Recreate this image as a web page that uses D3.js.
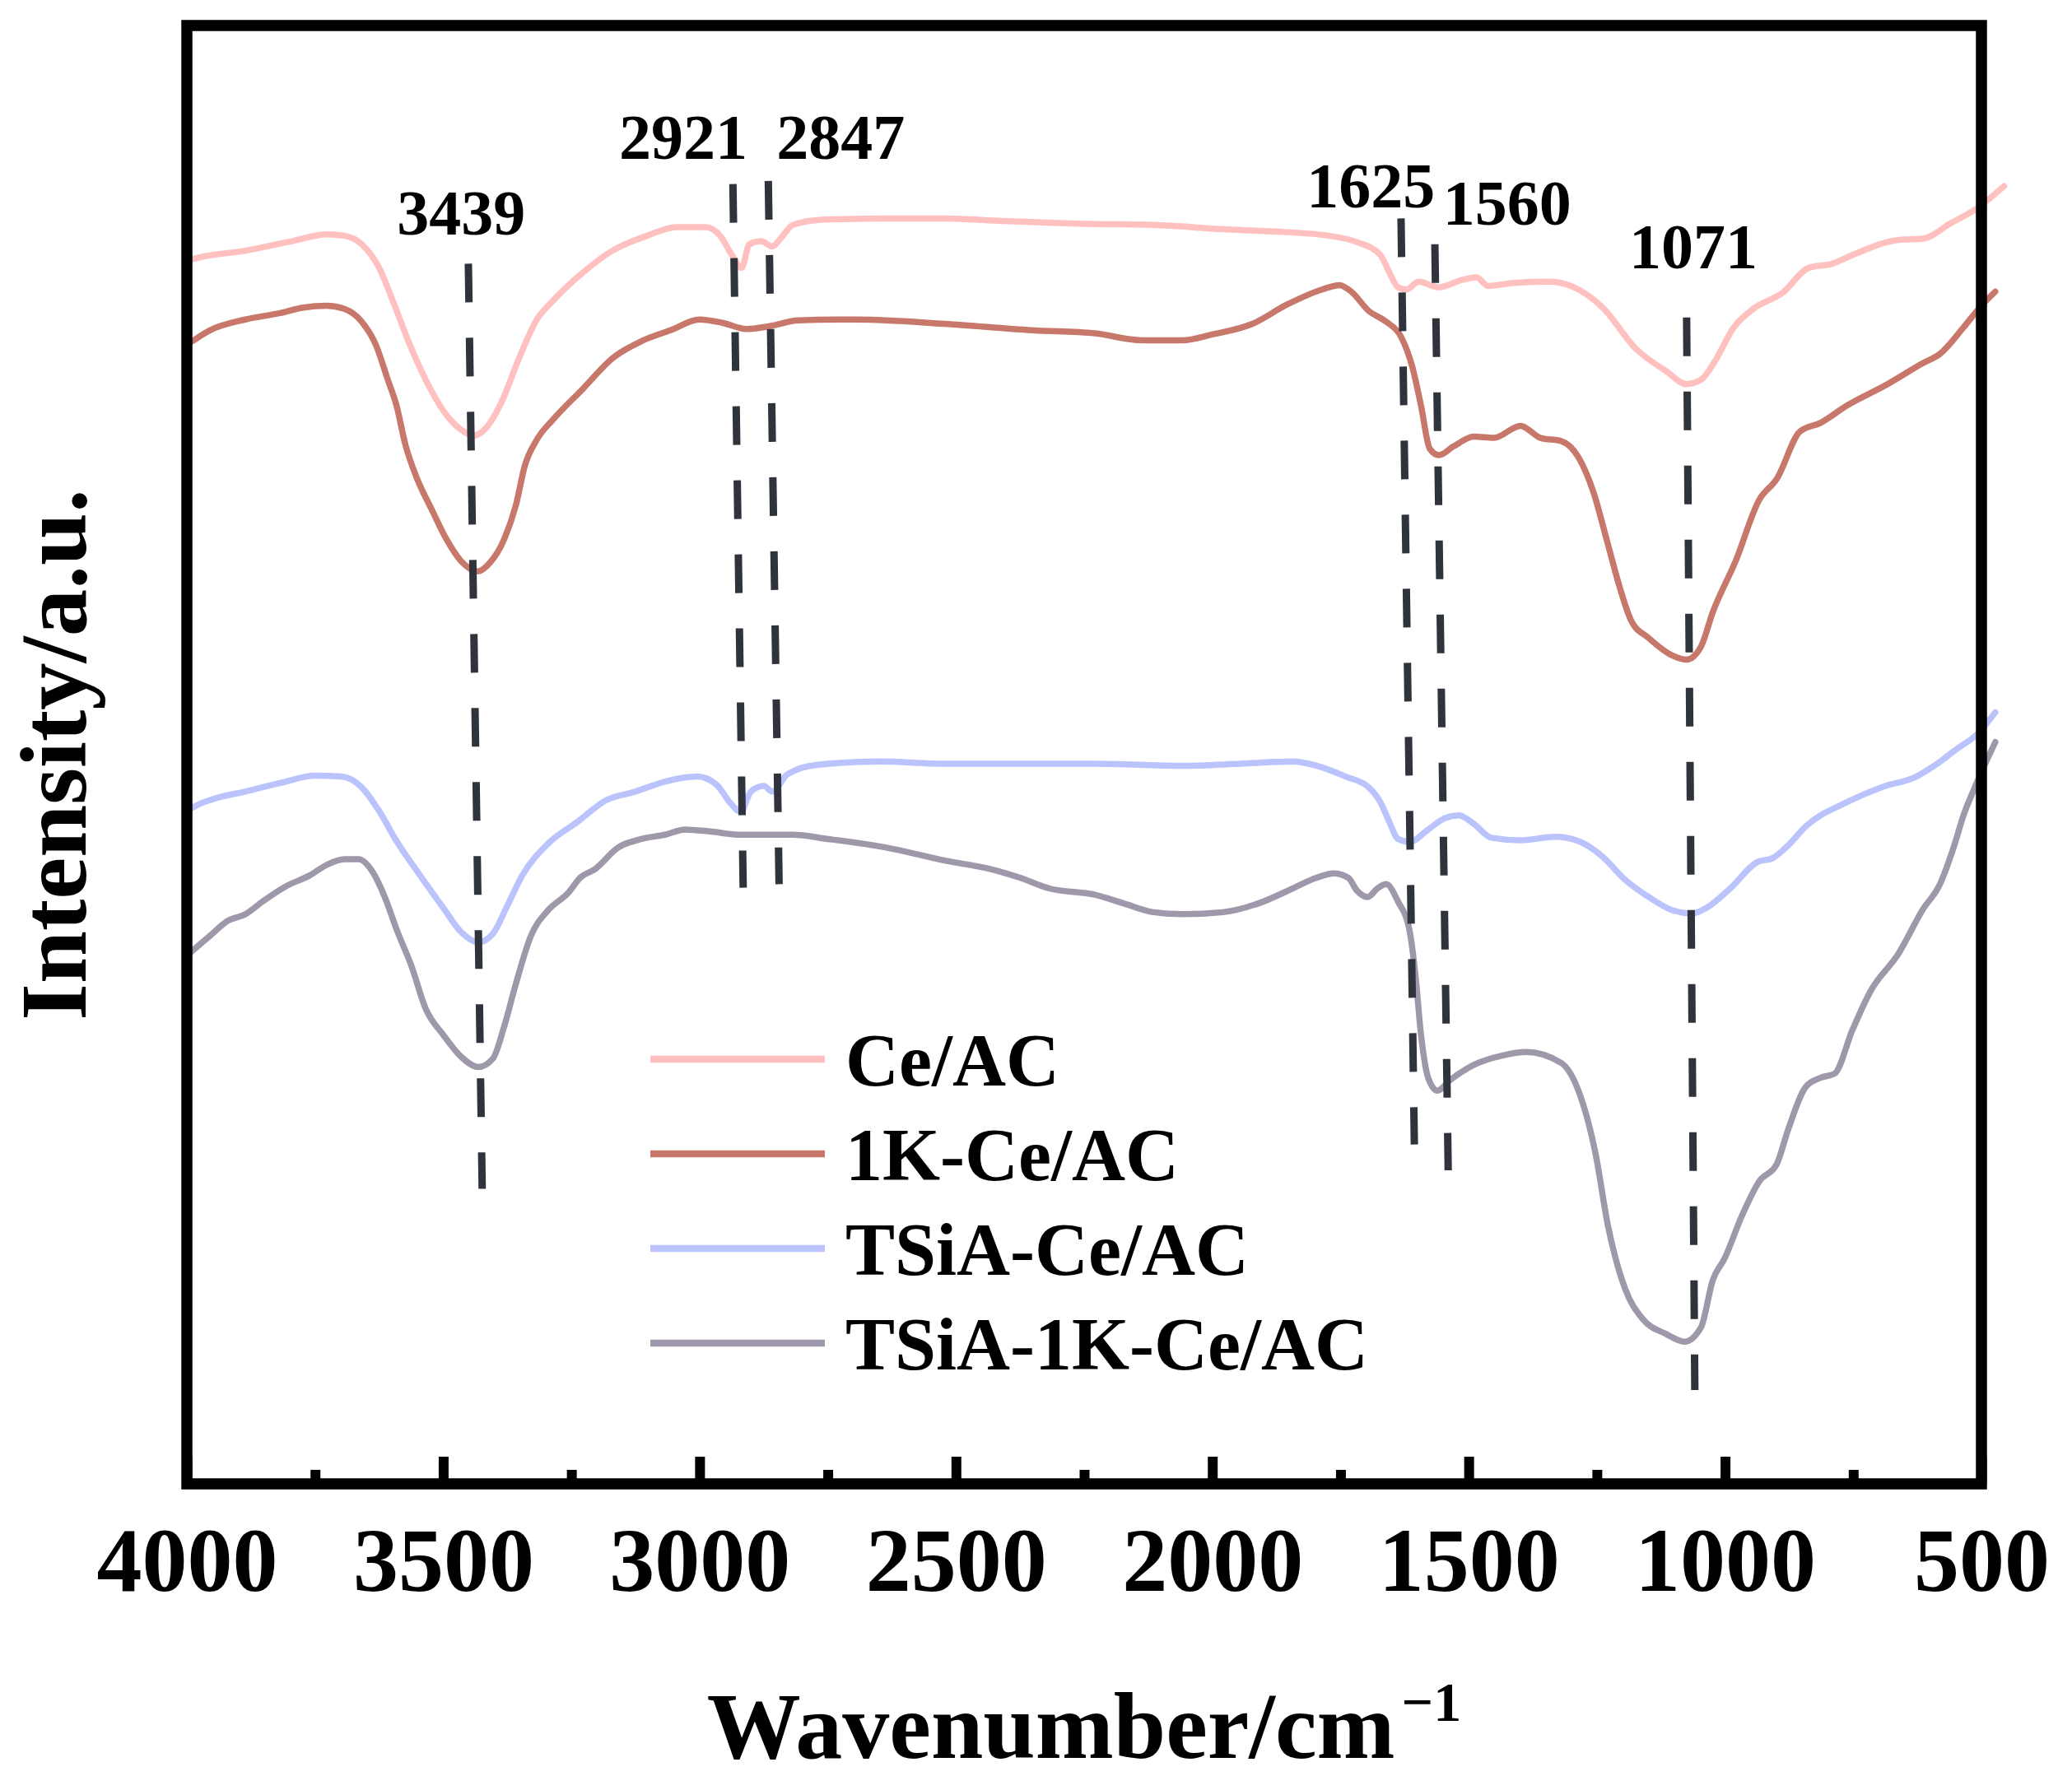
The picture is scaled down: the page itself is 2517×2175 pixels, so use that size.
<!DOCTYPE html>
<html>
<head>
<meta charset="utf-8">
<script src="https://cdn.jsdelivr.net/npm/d3@7"></script>
<style>
  html, body { margin: 0; padding: 0; background: #ffffff; }
  svg { display: block; }
  text { font-family: "Liberation Serif", "Times New Roman", Times, serif; font-weight: bold; fill: #000; }
</style>
</head>
<body>
<svg id="chart" width="2517" height="2175"></svg>
<script>
// ---------------- DATA (wavenumber cm^-1, intensity a.u.) ----------------
const seriesNames = ["Ce/AC", "1K-Ce/AC", "TSiA-Ce/AC", "TSiA-1K-Ce/AC"];
const seriesColors = ["#ffc0c0", "#c8786a", "#bbc3fd", "#9e98aa"];

const ceAC = [[4000,83.8],[3989,83.97],[3886,84.56],[3795,85.21],[3727,85.68],[3693,85.59],[3659,85.0],[3625,83.38],[3597,81.0],[3568,78.36],[3534,75.7],[3500,73.6],[3466,72.3],[3441,71.87],[3415,72.46],[3386,74.2],[3352,77.2],[3318,79.8],[3284,81.2],[3227,83.08],[3170,84.56],[3102,85.59],[3045,86.18],[2988,86.18],[2960,85.59],[2937,84.26],[2918,83.38],[2903,85.0],[2880,85.21],[2858,84.85],[2841,85.44],[2818,86.33],[2761,86.68],[2636,86.77],[2522,86.77],[2409,86.6],[2229,86.39],[2115,86.33],[1979,86.03],[1888,85.89],[1774,85.59],[1718,85.15],[1672,84.26],[1655,83.08],[1638,82.05],[1621,81.9],[1598,82.43],[1558,82.05],[1513,82.55],[1485,82.73],[1462,82.14],[1411,82.35],[1343,82.43],[1286,81.9],[1240,80.7],[1172,77.77],[1115,76.3],[1075,75.41],[1047,75.7],[1019,77.03],[984,79.25],[945,80.57],[888,81.67],[837,83.38],[791,83.67],[752,84.26],[661,85.3],[615,85.38],[558,86.48],[513,87.36],[456,88.98]];

const k1CeAC = [[4000,78.1],[3989,78.36],[3955,79.1],[3886,79.84],[3818,80.28],[3773,80.66],[3727,80.78],[3693,80.57],[3659,79.69],[3631,78.07],[3608,75.7],[3591,73.93],[3574,71.28],[3551,68.92],[3523,66.85],[3494,64.79],[3466,63.31],[3432,62.57],[3409,63.16],[3381,64.79],[3358,67.15],[3341,69.8],[3318,71.57],[3284,73.05],[3227,75.11],[3170,77.18],[3113,78.36],[3057,79.1],[3000,79.84],[2954,79.6],[2909,79.19],[2863,79.39],[2807,79.78],[2693,79.84],[2522,79.54],[2352,79.1],[2229,78.89],[2138,78.42],[2058,78.42],[2002,78.8],[1922,79.54],[1854,80.87],[1786,81.9],[1752,82.2],[1729,81.75],[1695,80.43],[1661,79.69],[1632,78.66],[1610,76.59],[1593,73.93],[1576,70.98],[1558,70.54],[1530,71.13],[1490,71.81],[1451,71.72],[1399,72.55],[1360,71.72],[1320,71.51],[1286,70.39],[1257,68.03],[1229,64.49],[1206,61.54],[1183,59.18],[1149,58.0],[1104,56.82],[1075,56.52],[1047,57.41],[1024,59.77],[979,63.31],[934,67.44],[899,68.92],[854,72.16],[814,72.75],[763,73.93],[683,75.41],[615,76.83],[581,77.48],[536,79.25],[502,80.72],[473,81.75]];

const tsiaCeAC = [[4000,46.1],[3989,46.37],[3943,47.02],[3886,47.47],[3818,48.06],[3750,48.56],[3699,48.5],[3659,47.76],[3625,46.14],[3591,44.07],[3545,41.71],[3500,39.5],[3466,37.87],[3432,37.14],[3403,37.73],[3375,39.65],[3346,41.71],[3295,43.92],[3238,45.4],[3182,46.88],[3125,47.47],[3068,48.15],[3005,48.5],[2966,47.91],[2941,46.73],[2920,46.08],[2900,47.47],[2875,47.85],[2858,47.47],[2829,48.65],[2772,49.3],[2647,49.53],[2522,49.38],[2352,49.38],[2229,49.38],[2058,49.24],[1945,49.38],[1843,49.53],[1797,49.24],[1740,48.5],[1695,47.76],[1672,46.73],[1655,45.4],[1638,44.22],[1615,44.01],[1581,44.81],[1547,45.64],[1519,45.84],[1490,45.25],[1456,44.31],[1399,44.13],[1331,44.37],[1286,44.07],[1240,43.04],[1195,41.42],[1149,40.24],[1104,39.35],[1064,39.11],[1036,39.5],[990,40.83],[939,42.6],[905,42.95],[877,43.78],[842,45.1],[763,46.73],[695,47.76],[627,48.5],[592,49.24],[547,50.42],[507,51.45],[473,52.9]];

const tsia1kCeAC = [[4000,36.2],[3989,36.55],[3955,37.58],[3920,38.61],[3886,39.06],[3852,39.94],[3807,40.97],[3761,41.71],[3727,42.45],[3693,42.83],[3665,42.83],[3636,41.86],[3614,40.24],[3591,38.02],[3562,35.51],[3534,32.56],[3500,30.79],[3466,29.32],[3432,28.58],[3403,29.17],[3381,31.38],[3358,34.33],[3329,37.58],[3295,39.35],[3256,40.53],[3233,41.56],[3204,42.15],[3159,43.63],[3113,44.22],[3068,44.51],[3028,44.87],[2977,44.72],[2920,44.51],[2818,44.51],[2750,44.22],[2636,43.63],[2522,42.74],[2432,42.15],[2375,41.56],[2318,40.83],[2229,40.4],[2172,39.79],[2115,39.2],[2058,39.06],[1979,39.2],[1911,39.79],[1843,40.83],[1797,41.56],[1763,41.86],[1735,41.56],[1718,40.68],[1697,40.24],[1678,40.83],[1661,41.12],[1638,39.94],[1615,37.87],[1604,34.92],[1593,30.79],[1579,27.84],[1561,26.96],[1536,27.69],[1490,28.73],[1433,29.38],[1388,29.61],[1320,28.87],[1286,26.96],[1252,22.53],[1229,17.81],[1195,13.38],[1161,11.32],[1115,10.28],[1079,9.75],[1047,10.73],[1024,13.97],[1001,15.45],[967,18.4],[933,20.76],[899,21.94],[877,24.3],[842,27.25],[814,27.84],[786,28.14],[752,31.09],[717,33.74],[661,36.4],[615,39.35],[581,41.12],[553,43.78],[535,45.84],[513,47.76],[473,50.86]];

const seriesData = [ceAC, k1CeAC, tsiaCeAC, tsia1kCeAC];

// peak guide lines: [label, wTop, vTop, wBottom, vBottom]
const peakLines = [
  ["3439", 3451, 83.67, 3424, 20.23],
  ["2921", 2935, 89.13, 2915, 40.88],
  ["2847", 2866, 89.34, 2845, 41.12],
  ["1625", 1632, 86.77, 1606, 23.27],
  ["1560", 1566, 85.00, 1540, 21.50],
  ["1071", 1075, 79.98, 1059, 6.43]
];
// peak label anchors: [label, w (centre), v (baseline)]
const peakLabels = [
  ["3439", 3465, 85.67],
  ["2921", 3032, 90.86],
  ["2847", 2725, 90.86],
  ["1625", 1691, 87.53],
  ["1560", 1425, 86.34],
  ["1071", 1062, 83.38]
];

const xMajorTicks = [4000, 3500, 3000, 2500, 2000, 1500, 1000, 500];
const xMinorTicks = [3750, 3250, 2750, 2250, 1750, 1250, 750];
const xDomain = [4000, 500];
const yDomain = [0, 100];

// ---------------- LAYOUT ----------------
const L = 227, R = 2407, T = 31, B = 1803;
const svg = d3.select("#chart");
svg.append("rect").attr("width", 2517).attr("height", 2175).attr("fill", "#fff");

const x = d3.scaleLinear().domain(xDomain).range([L, R]);
const y = d3.scaleLinear().domain(yDomain).range([B, T]);

// curves
const line = d3.line().x(d => x(d[0])).y(d => y(d[1])).curve(d3.curveMonotoneX);
const gCurves = svg.append("g");
seriesData.forEach((s, i) => {
  gCurves.append("path")
    .attr("d", line(s))
    .attr("fill", "none")
    .attr("stroke", seriesColors[i])
    .attr("stroke-width", 7.5)
    .attr("stroke-linejoin", "round")
    .attr("stroke-linecap", "round");
});

// dashed guide lines
const gDash = svg.append("g");
peakLines.forEach(p => {
  gDash.append("line")
    .attr("x1", x(p[1])).attr("y1", y(p[2]))
    .attr("x2", x(p[3])).attr("y2", y(p[4]))
    .attr("stroke", "#2f333b")
    .attr("stroke-width", 9)
    .attr("stroke-dasharray", "47,43");
});

// peak labels
peakLabels.forEach(p => {
  svg.append("text")
    .attr("x", x(p[1])).attr("y", y(p[2]))
    .attr("text-anchor", "middle")
    .attr("font-size", 78)
    .text(p[0]);
});

// legend
const legX0 = 790, legX1 = 1002, legTextX = 1027, legY0 = 1287, legDY = 115;
seriesNames.forEach((n, i) => {
  const yy = legY0 + i * legDY;
  svg.append("line")
    .attr("x1", legX0).attr("x2", legX1).attr("y1", yy).attr("y2", yy)
    .attr("stroke", seriesColors[i]).attr("stroke-width", 8.5);
  svg.append("text")
    .attr("x", legTextX).attr("y", yy + 32)
    .attr("font-size", 90)
    .text(n);
});

// axes (bottom only)
const axMajor = d3.axisBottom(x).tickValues(xMajorTicks).tickSize(-33).tickFormat(d3.format("d"));
const gAx = svg.append("g").attr("transform", `translate(0,${B})`).call(axMajor);
gAx.select(".domain").remove();
gAx.selectAll(".tick line").attr("stroke", "#000").attr("stroke-width", 12);
gAx.selectAll(".tick text")
  .attr("y", 130).attr("dy", null)
  .attr("font-size", 110)
  .attr("font-family", "'Liberation Serif', 'Times New Roman', serif")
  .attr("font-weight", "bold")
  .attr("fill", "#000");

const axMinor = d3.axisBottom(x).tickValues(xMinorTicks).tickSize(-17).tickFormat("");
const gAxm = svg.append("g").attr("transform", `translate(0,${B})`).call(axMinor);
gAxm.select(".domain").remove();
gAxm.selectAll(".tick line").attr("stroke", "#000").attr("stroke-width", 12);

// frame
svg.append("rect")
  .attr("x", L).attr("y", T).attr("width", R - L).attr("height", B - T)
  .attr("fill", "none").attr("stroke", "#000").attr("stroke-width", 13.5);

// axis titles
const xt = svg.append("text")
  .attr("x", (L + R) / 2).attr("y", 2136)
  .attr("text-anchor", "middle")
  .attr("font-size", 114);
xt.append("tspan").text("Wavenumber/cm");
xt.append("tspan").attr("font-size", 68).attr("dx", 8).attr("dy", -45).text("\u22121");

svg.append("text")
  .attr("transform", `translate(104,${(T + B) / 2}) rotate(-90)`)
  .attr("text-anchor", "middle")
  .attr("font-size", 115)
  .text("Intensity/a.u.");
</script>
</body>
</html>
